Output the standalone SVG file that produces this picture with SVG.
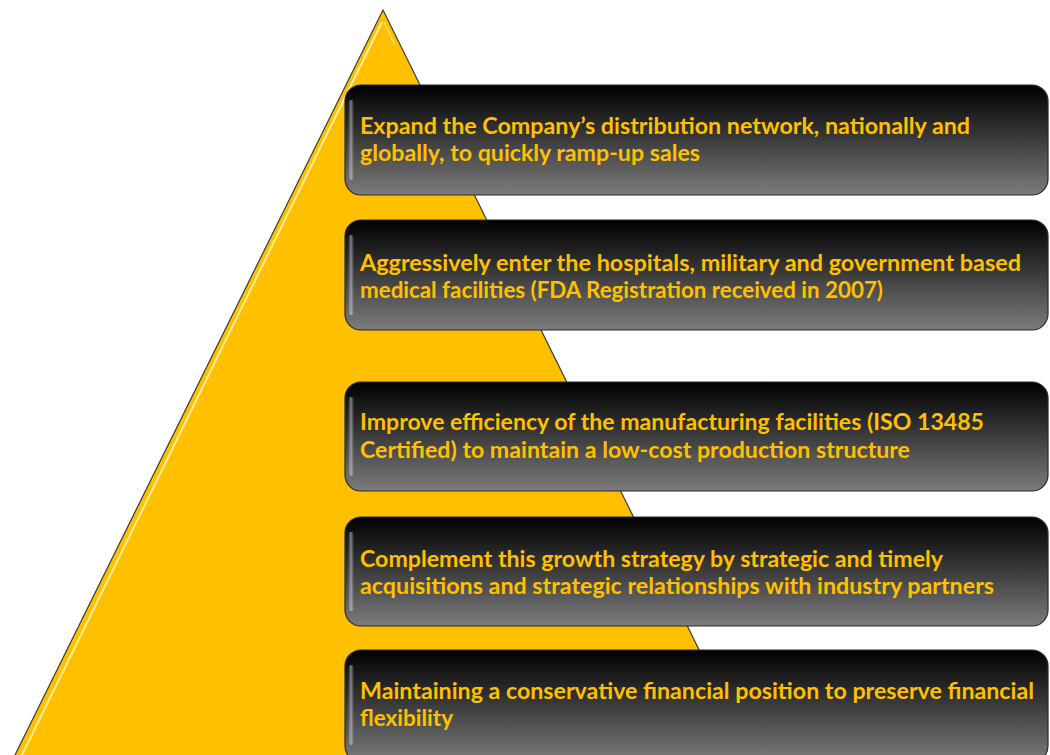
<svg xmlns="http://www.w3.org/2000/svg" width="1050" height="755" viewBox="0 0 1050 755">
  <defs>
    <linearGradient id="boxFill" x1="0" y1="0" x2="0" y2="1">
      <stop offset="0" stop-color="#000000"/>
      <stop offset="0.45" stop-color="#363636"/>
      <stop offset="1" stop-color="#7c7c7c"/>
    </linearGradient>
    <linearGradient id="sheen" x1="0" y1="0" x2="1" y2="0">
      <stop offset="0" stop-color="#ffffff" stop-opacity="0"/>
      <stop offset="0.5" stop-color="#ffffff" stop-opacity="0.45"/>
      <stop offset="1" stop-color="#ffffff" stop-opacity="0"/>
    </linearGradient>
  </defs>
  <style>
    .box { fill: url(#boxFill); stroke: #2a2a2a; stroke-width: 1.2; }
    .hl { fill: url(#sheen); }
    .label { font-family: Lato, "Open Sans", "Liberation Sans", sans-serif; font-weight: bold; font-size: 22px; fill: #FFC000; }
  </style>

  <rect width="1050" height="755" fill="#ffffff"/>

  <!-- pyramid -->
  <g id="pyramid">
    <polygon points="383,10 14,757 752,757" fill="#FFC000" stroke="#3a3a3a" stroke-width="1.2"/>
    <line x1="382" y1="22" x2="22" y2="755" stroke="#fff3b0" stroke-width="2" opacity="0.9"/>
    <line x1="384" y1="22" x2="395" y2="45" stroke="#fff3b0" stroke-width="1.5" opacity="0.6"/>
  </g>

  <!-- tiers -->
  <g id="tier1">
    <rect class="box" x="345" y="85" width="703" height="110" rx="16"/>
    <rect class="hl" x="348" y="100" width="6" height="80" rx="3"/>
    <text class="label" x="360" y="134" textLength="610" lengthAdjust="spacingAndGlyphs">Expand the Company’s distribution network, nationally and</text>
    <text class="label" x="360" y="161" textLength="340" lengthAdjust="spacingAndGlyphs">globally, to quickly ramp-up sales</text>
  </g>

  <g id="tier2">
    <rect class="box" x="345" y="220" width="703" height="110" rx="16"/>
    <rect class="hl" x="348" y="235" width="6" height="80" rx="3"/>
    <text class="label" x="360" y="271" textLength="661" lengthAdjust="spacingAndGlyphs">Aggressively enter the hospitals, military and government based</text>
    <text class="label" x="360" y="298" textLength="523" lengthAdjust="spacingAndGlyphs">medical facilities  (FDA Registration received in 2007)</text>
  </g>

  <g id="tier3">
    <rect class="box" x="345" y="382" width="703" height="109" rx="16"/>
    <rect class="hl" x="348" y="397" width="6" height="79" rx="3"/>
    <text class="label" x="360" y="430" textLength="624" lengthAdjust="spacingAndGlyphs">Improve efficiency of the manufacturing  facilities (ISO 13485</text>
    <text class="label" x="360" y="458" textLength="550" lengthAdjust="spacingAndGlyphs">Certified) to maintain a low-cost production structure</text>
  </g>

  <g id="tier4">
    <rect class="box" x="345" y="517" width="703" height="109" rx="16"/>
    <rect class="hl" x="348" y="532" width="6" height="79" rx="3"/>
    <text class="label" x="360" y="567" textLength="583" lengthAdjust="spacingAndGlyphs">Complement this growth strategy by strategic and timely</text>
    <text class="label" x="360" y="594" textLength="634" lengthAdjust="spacingAndGlyphs">acquisitions and strategic relationships with industry partners</text>
  </g>

  <g id="tier5">
    <rect class="box" x="345" y="650" width="703" height="112" rx="16"/>
    <rect class="hl" x="348" y="665" width="6" height="80" rx="3"/>
    <text class="label" x="360" y="699" textLength="674" lengthAdjust="spacingAndGlyphs">Maintaining a conservative financial  position to preserve financial</text>
    <text class="label" x="360" y="726" textLength="93" lengthAdjust="spacingAndGlyphs">flexibility</text>
  </g>

  <g id="connectors"></g>
</svg>
